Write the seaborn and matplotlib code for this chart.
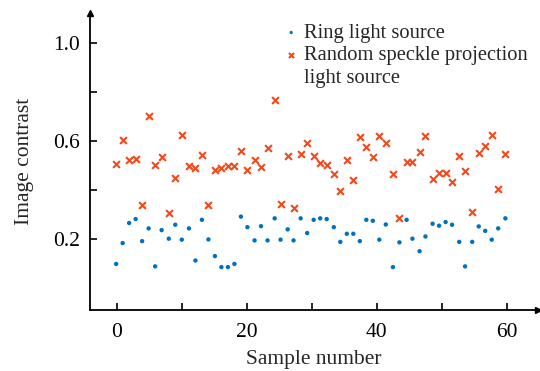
import matplotlib
matplotlib.use("Agg")
import matplotlib.pyplot as plt
from matplotlib.lines import Line2D
import seaborn as sns
import pandas as pd

# sample positions
sample_x = [-0.1, 0.9, 1.9, 2.9, 3.9, 4.9, 5.9, 6.9, 8.0, 9.0,
            10.0, 11.1, 12.1, 13.1, 14.1, 15.1, 16.1, 17.1, 18.1, 19.1,
            20.1, 21.2, 22.2, 23.2, 24.3, 25.2, 26.3, 27.2, 28.3, 29.3,
            30.3, 31.3, 32.3, 33.4, 34.4, 35.4, 36.4, 37.4, 38.4, 39.4,
            40.4, 41.4, 42.5, 43.5, 44.6, 45.5, 46.6, 47.5, 48.6, 49.6,
            50.6, 51.6, 52.7, 53.6, 54.7, 55.7, 56.7, 57.7, 58.7, 59.8]

ring = [0.100, 0.185, 0.267, 0.283, 0.193, 0.245, 0.090, 0.238, 0.203, 0.260,
        0.199, 0.245, 0.114, 0.280, 0.200, 0.132, 0.087, 0.087, 0.100, 0.293,
        0.250, 0.196, 0.254, 0.196, 0.286, 0.199, 0.241, 0.196, 0.286, 0.226,
        0.280, 0.286, 0.283, 0.250, 0.190, 0.223, 0.223, 0.193, 0.280, 0.276,
        0.199, 0.261, 0.087, 0.188, 0.280, 0.203, 0.152, 0.212, 0.264, 0.256,
        0.271, 0.260, 0.190, 0.090, 0.190, 0.253, 0.235, 0.199, 0.245, 0.286]

speckle = [0.507, 0.607, 0.525, 0.528, 0.339, 0.703, 0.505, 0.535, 0.309, 0.452,
           0.627, 0.499, 0.493, 0.543, 0.342, 0.484, 0.493, 0.498, 0.498, 0.562,
           0.484, 0.525, 0.495, 0.574, 0.770, 0.344, 0.540, 0.329, 0.547, 0.593,
           0.540, 0.511, 0.505, 0.465, 0.399, 0.525, 0.442, 0.616, 0.576, 0.536,
           0.623, 0.593, 0.468, 0.289, 0.514, 0.514, 0.555, 0.623, 0.445, 0.469,
           0.469, 0.433, 0.542, 0.479, 0.313, 0.552, 0.580, 0.627, 0.404, 0.550]

x_ticks = [0, 20, 40, 60]
x_minor = [10, 30, 50]
y_ticks = [0.2, 0.6, 1.0]
y_minor = [0.4, 0.8]

label_ring = "Ring light source"
label_speckle = "Random speckle projection"
label_speckle_2 = "light source"

sns.set_theme(style="white")
plt.rcParams["font.family"] = ["Liberation Serif", "DejaVu Serif"]

FS = 15.5
FS_LEG = 14.8

df_ring = pd.DataFrame({"x": sample_x, "y": ring})
df_sp = pd.DataFrame({"x": sample_x, "y": speckle})

fig = plt.figure(figsize=(5.4, 3.71), dpi=100)
ax = fig.add_axes([0.166, 0.1644, 0.830, 0.800])

sns.scatterplot(data=df_ring, x="x", y="y", ax=ax, color="#0072BD", marker="o",
                s=10, edgecolor="none", label=label_ring)
sns.scatterplot(data=df_sp, x="x", y="y", ax=ax, color="#F4481A", marker="x",
                s=24, linewidth=1.5, label=label_speckle)

ax.set_xlim(-4.18, 64.8)
ax.set_ylim(-0.088, 1.123)
ax.set_xticks(x_ticks)
ax.set_xticks(x_minor, minor=True)
ax.set_yticks(y_ticks)
ax.set_yticks(y_minor, minor=True)
ax.set_yticklabels([f"{v:.1f}" for v in y_ticks])
ax.tick_params(axis="both", which="both", direction="in", length=5, width=1.2,
               colors="black", labelsize=FS, bottom=True, left=True)
ax.tick_params(axis="y", pad=7)
ax.tick_params(axis="x", pad=9.5)

for s in ["top", "right"]:
    ax.spines[s].set_visible(False)
for s in ["left", "bottom"]:
    ax.spines[s].set_color("black")
    ax.spines[s].set_linewidth(1.3)

# axis arrows
ax.plot(1, 0, ">", color="black", markersize=5, transform=ax.transAxes, clip_on=False)
ax.plot(0, 1, "^", color="black", markersize=5, transform=ax.transAxes, clip_on=False)

ax.set_xlabel("Sample number", fontsize=FS, labelpad=5.5)
ax.set_ylabel("Image contrast", fontsize=FS, labelpad=14)

handles, labels = ax.get_legend_handles_labels()
blank = Line2D([], [], linestyle="none", marker=None)
leg = ax.legend(handles=handles + [blank], labels=labels + [label_speckle_2],
                loc="upper left", bbox_to_anchor=(0.413, 0.993), frameon=False,
                fontsize=FS_LEG, handletextpad=0.22, handlelength=0.8,
                borderaxespad=0.0, labelspacing=0.15, markerscale=0.75)

fig.savefig("out.png", dpi=100)
